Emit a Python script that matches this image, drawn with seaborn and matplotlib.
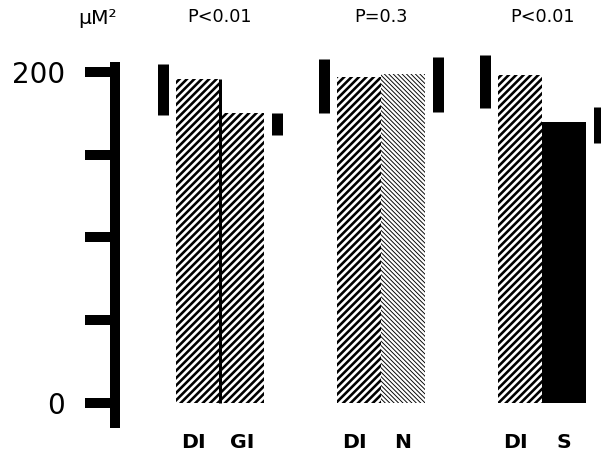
import matplotlib.pyplot as plt
import seaborn as sns
import numpy as np
import pandas as pd

# values (um^2)
groups = ["DI/GI", "DI/N", "DI/S"]
p_values = ["P<0.01", "P=0.3", "P<0.01"]
first_labels = ["DI", "DI", "DI"]
second_labels = ["GI", "N", "S"]
first_values = [196, 197, 198]
second_values = [175, 199, 170]
# error bar extents (low, high)
first_err_lo = [174, 175, 178]
first_err_hi = [205, 208, 210]
second_err_lo = [162, 176, 157]
second_err_hi = [175, 209, 179]
y_ticks = [0, 50, 100, 150, 200]
y_ticklabels = ["0", "", "", "", "200"]

DPI = 400 / 3
PT = 72 / DPI  # px -> pt

df = pd.DataFrame({
    "group": groups * 2,
    "pos": ["first"] * 3 + ["second"] * 3,
    "value": first_values + second_values,
})

sns.set_style("white")
plt.rcParams["font.family"] = ["DejaVu Sans"]
plt.rcParams["text.color"] = "black"

fig = plt.figure(figsize=(601 / DPI, 466 / DPI), dpi=DPI)
ax = fig.add_axes([115 / 601, 0, 1 - 115 / 601, 1])

bar_w = 0.546
sns.barplot(data=df, x="group", y="value", hue="pos", dodge=True, width=bar_w,
            errorbar=None, legend=False, ax=ax)

# style each bar (sorted left to right)
bars = sorted([p for p in ax.patches if p.get_width() > 0], key=lambda p: p.get_x())
thick = "/" * 6
thin = "\\" * 10
styles = [
    ("white", thick, 1.4),
    ("white", thick, 1.4),
    ("white", thick, 1.4),
    ("white", thin, 0.5),
    ("white", thick, 1.4),
    ("black", "", 1.0),
]
for b, (fc, h, hlw) in zip(bars, styles):
    b.set_facecolor(fc)
    b.set_edgecolor("black")
    b.set_linewidth(0)
    b.set_hatch(h)
    if hasattr(b, "set_hatch_linewidth"):
        b.set_hatch_linewidth(hlw)

x = np.arange(len(groups))
err_off = 0.354
ax.vlines(x - err_off, first_err_lo, first_err_hi, color="black", lw=11 * PT)
ax.vlines(x + err_off, second_err_lo, second_err_hi, color="black", lw=11 * PT)
# dark divider between DI and GI
ax.vlines(x[0], 0, first_values[0], color="black", lw=3 * PT)

ax.set_xlim(-0.652, 2.366)
ax.set_ylim(-38.07, 243.5)
ax.set_xticks([])
ax.set_xlabel("")
ax.set_ylabel("")
ax.set_yticks(y_ticks)
ax.set_yticklabels(y_ticklabels)
ax.tick_params(axis="y", direction="out", length=30 * PT, width=10 * PT,
               pad=20 * PT, labelsize=15, colors="black", left=True)
for s in ["top", "right", "bottom"]:
    ax.spines[s].set_visible(False)
ax.spines["left"].set_linewidth(10 * PT)
ax.spines["left"].set_color("black")
ax.spines["left"].set_bounds(-12, 203)
ax.patch.set_alpha(0)

xt = ax.get_xaxis_transform()
for i, p in enumerate(p_values):
    ax.text(x[i], 1 - 17 / 466, p, transform=xt, ha="center", va="center",
            fontsize=9.5, color="black")
    ax.text(x[i] - bar_w / 4 - 0.03, 1 - 443 / 466, first_labels[i], transform=xt,
            ha="center", va="center", fontsize=11, fontweight="bold", color="black")
    ax.text(x[i] + bar_w / 4, 1 - 443 / 466, second_labels[i], transform=xt,
            ha="center", va="center", fontsize=11, fontweight="bold", color="black")

fig.text(98 / 601, 1 - 18 / 466, "μM²", ha="center", va="center", fontsize=11, color="black")

fig.savefig("out.png", dpi=DPI)
